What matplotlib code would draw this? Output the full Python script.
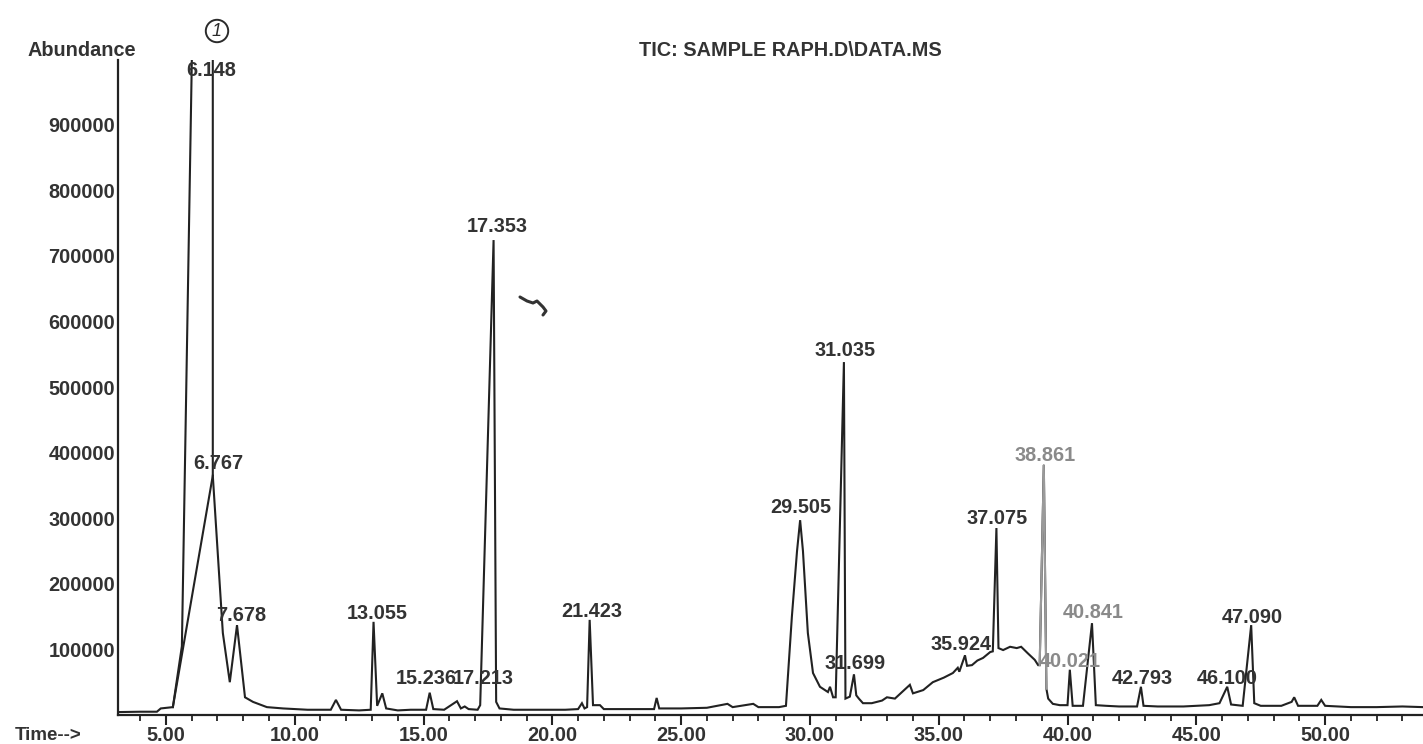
import matplotlib
matplotlib.use("Agg")
import matplotlib.pyplot as plt
from matplotlib.lines import Line2D
from matplotlib.ticker import MultipleLocator, FixedLocator

# ---------------- data ----------------
# main TIC trace: retention time (min) and abundance
trace_time = [
    3.20, 4.00, 4.65, 4.80, 5.27, 5.62, 6.05, 6.82, 6.82, 7.21, 7.48, 7.76, 8.07, 8.38, 8.92, 9.55,
    10.5, 11.40, 11.60, 11.80, 12.50, 12.95, 13.06, 13.20, 13.40, 13.55, 14.0, 14.5, 15.10, 15.24,
    15.38, 15.80, 16.30, 16.45, 16.60, 16.75, 17.10, 17.20, 17.72, 17.82, 17.95, 18.5, 19.5, 20.5,
    21.00, 21.15, 21.25, 21.35, 21.45, 21.58, 21.85, 22.0, 23.0, 23.95, 24.05, 24.15, 25.0, 26.0,
    26.80, 27.00, 27.80, 28.00, 28.80, 29.07, 29.30, 29.50, 29.62, 29.73, 29.92, 30.12, 30.39,
    30.70, 30.78, 30.90, 31.00, 31.32, 31.38, 31.55, 31.71, 31.80, 31.90, 32.06, 32.40, 32.80,
    32.99, 33.30, 33.88, 34.00, 34.40, 34.77, 35.20, 35.55, 35.74, 35.80, 36.02, 36.10, 36.29,
    36.50, 36.72, 37.00, 37.10, 37.24, 37.32, 37.50, 37.77, 38.03, 38.20, 38.46, 38.73, 38.86,
    38.92, 39.08, 39.18, 39.25, 39.43, 39.70, 40.00, 40.09, 40.20, 40.60, 40.95, 41.10, 41.50,
    42.00, 42.70, 42.85, 42.95, 43.50, 44.50, 45.50, 45.90, 46.20, 46.35, 46.80, 47.13, 47.25,
    47.50, 48.30, 48.70, 48.80, 48.95, 49.70, 49.85, 50.00, 51.00, 52.00, 53.00, 53.80,
]
trace_abund = [
    4500, 5000, 5000, 10000, 12000, 105000, 1100000, 1100000, 365000, 125000, 50000, 137000, 27000, 20000, 12000, 10000,
    8000, 8000, 23000, 8000, 7000, 8000, 142000, 14000, 33000, 10000, 7000, 8000, 8000, 34000,
    9000, 8000, 21000, 10000, 13000, 9000, 8000, 15000, 724000, 20000, 10000, 8000, 8000, 8000,
    9000, 18000, 10000, 12000, 145000, 15000, 15000, 9000, 9000, 9000, 26000, 10000, 10000, 11000,
    17000, 12000, 17000, 12000, 12000, 14000, 150000, 250000, 297000, 250000, 125000, 64000, 43000,
    35000, 43000, 27000, 27000, 538000, 25000, 28000, 62000, 30000, 25000, 18000, 18000, 22000,
    27000, 25000, 46000, 33000, 38000, 50000, 57000, 64000, 72000, 66000, 91000, 75000, 76000,
    83000, 87000, 96000, 97000, 285000, 102000, 99000, 104000, 102000, 104000, 94000, 84000, 76000,
    76000, 381000, 40000, 25000, 17000, 15000, 15000, 69000, 14000, 14000, 140000, 15000, 14000,
    13000, 13000, 43000, 14000, 13000, 13000, 15000, 18000, 43000, 16000, 14000, 137000, 18000,
    14000, 14000, 20000, 27000, 14000, 14000, 23000, 14000, 12000, 12000, 13000, 12000,
]
# straight reconnect line of the overloaded first peak
reconnect_time = [5.27, 6.82]
reconnect_abund = [12000, 365000]
# faint (gray) spike at 38.861
faint_time = [38.92, 39.08, 39.18]
faint_abund = [76000, 381000, 40000]

# peak labels and where they are printed (time, abundance of label centre)
label_text = ["6.148", "6.767", "7.678", "13.055", "15.236", "17.213", "17.353", "21.423",
              "29.505", "31.035", "31.699", "35.924", "37.075", "38.861", "40.021", "40.841",
              "42.793", "46.100", "47.090"]
label_time = [6.75, 7.02, 7.91, 13.19, 15.09, 17.32, 17.85, 21.54,
              29.65, 31.36, 31.75, 35.86, 37.26, 39.12, 40.09, 40.99,
              42.89, 46.19, 47.16]
label_abund = [983000, 384000, 152000, 155000, 56000, 56000, 745000, 158000,
               316000, 555000, 79000, 107000, 300000, 396000, 81000, 157000,
               56000, 56000, 149000]
faint_labels = {"38.861", "40.021", "40.841"}

y_ticks = [100000, 200000, 300000, 400000, 500000, 600000, 700000, 800000, 900000]
x_major = [5, 10, 15, 20, 25, 30, 35, 40, 45, 50]

title_text = "TIC: SAMPLE RAPH.D\\DATA.MS"

# ---------------- drawing ----------------
plt.rcParams["font.family"] = ["Liberation Sans", "DejaVu Sans"]
ink = "#222222"
txt_col = "#333333"
FS = 14.3
W, H = 1423, 744
fig = plt.figure(figsize=(W / 100, H / 100), dpi=100)
fig.patch.set_facecolor("white")
ax = fig.add_axes([118 / W, 1 - 715 / H, 1 - 118 / W, (715 - 60) / H])
ax.set_xlim(3.14, 53.8)
ax.set_ylim(0, 998500)

ax.plot(trace_time, trace_abund, color=ink, lw=1.5, solid_joinstyle="miter")
ax.plot(reconnect_time, reconnect_abund, color=ink, lw=1.5)
ax.plot(faint_time, faint_abund, color="#9a9a9a", lw=1.5)

for s in ["top", "right"]:
    ax.spines[s].set_visible(False)
for s in ["left", "bottom"]:
    ax.spines[s].set_linewidth(1.6)
    ax.spines[s].set_color(ink)

ax.yaxis.set_major_locator(FixedLocator(y_ticks))
ax.set_yticklabels([str(v) for v in y_ticks], fontweight="bold")
ax.tick_params(axis="y", length=0, pad=2, labelsize=FS, labelcolor=txt_col)

ax.xaxis.set_major_locator(FixedLocator(x_major))
ax.xaxis.set_minor_locator(MultipleLocator(1))
ax.set_xticklabels([f"{v:.2f}" for v in x_major], fontweight="bold")
ax.tick_params(axis="x", which="major", direction="out", length=7, width=1.5,
               color=ink, pad=1, labelsize=FS, labelcolor=txt_col)
ax.tick_params(axis="x", which="minor", direction="out", length=4, width=1.3, color=ink)

for txt, t, a in zip(label_text, label_time, label_abund):
    col = "#8a8a8a" if txt in faint_labels else txt_col
    ax.text(t, a, txt, ha="center", va="center", fontsize=FS, color=col,
            fontweight="bold", zorder=5)

fig.text(790 / W, 1 - 50 / H, title_text, ha="center", va="center", fontsize=FS,
         color=txt_col, fontweight="bold")
fig.text(27 / W, 1 - 50 / H, "Abundance", ha="left", va="center", fontsize=FS,
         color=txt_col, fontweight="bold")
fig.text(15 / W, 1 - 735 / H, "Time-->", ha="left", va="center", fontsize=13.5,
         color=txt_col, fontweight="bold")
# handwritten circled "1"
fig.text(217 / W, 1 - 31 / H, "1", ha="center", va="center", fontsize=13, color="#2b2b2b",
         style="italic",
         bbox=dict(boxstyle="circle,pad=0.15", fc="none", ec="#2b2b2b", lw=1.4))
# small handwritten pen mark next to the 17.353 peak
sx = [520, 527, 533, 537, 543, 546, 543]
sy = [297, 301, 303, 301, 307, 311, 315]
fig.add_artist(Line2D([x / W for x in sx], [1 - y / H for y in sy],
                      transform=fig.transFigure, color="#333333", lw=2.2,
                      solid_capstyle="round"))

fig.savefig("out.png", dpi=100, facecolor="white")
